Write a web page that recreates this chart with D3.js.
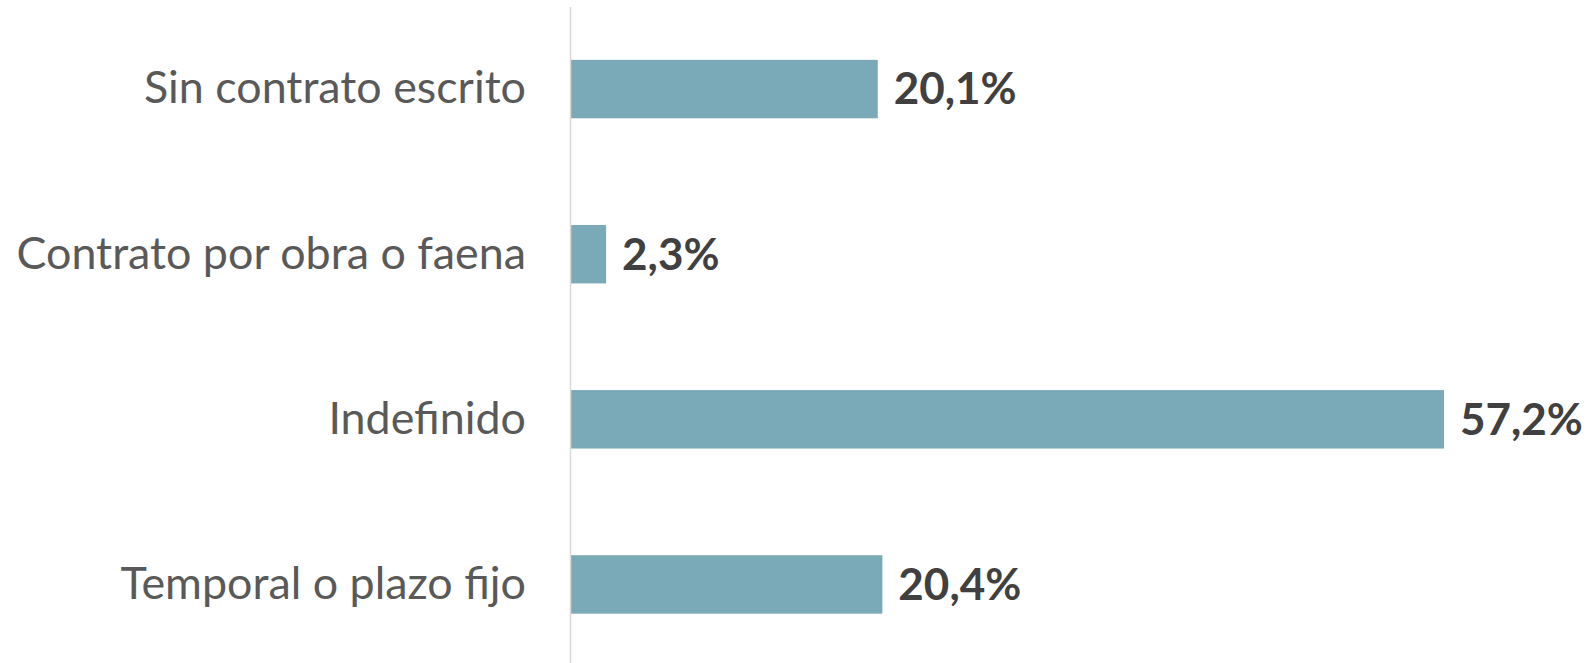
<!DOCTYPE html>
<html>
<head>
<meta charset="utf-8">
<script src="https://cdn.jsdelivr.net/npm/d3@7"></script>
<style>
html, body { margin: 0; padding: 0; background: #ffffff; }
svg { display: block; }
</style>
</head>
<body>
<svg id="chart" width="1588" height="663"></svg>
<script>
const categories = ["Sin contrato escrito", "Contrato por obra o faena", "Indefinido", "Temporal o plazo fijo"];
const values = [20.1, 2.3, 57.2, 20.4];
const valueLabels = ["20,1%", "2,3%", "57,2%", "20,4%"];

const svg = d3.select("#chart");
const axisX = 571;

const x = d3.scaleLinear().domain([0, 57.2]).range([axisX, 1444]);
const y = d3.scaleBand().domain(categories).range([6.5, 667]).paddingInner(0.646).paddingOuter(0.323);

const data = categories.map((c, i) => ({ c, v: values[i], l: valueLabels[i] }));

svg.selectAll("rect.bar").data(data).enter().append("rect")
  .attr("class", "bar")
  .attr("x", x(0))
  .attr("y", d => y(d.c))
  .attr("width", d => x(d.v) - x(0))
  .attr("height", y.bandwidth())
  .attr("fill", "#7aa9b8");

const yAxis = d3.axisLeft(y).tickSize(0).tickPadding(45);
const g = svg.append("g").attr("transform", `translate(${axisX},0)`).call(yAxis);
g.select(".domain").remove();
g.selectAll("text")
  .attr("font-family", "Lato, 'Open Sans', sans-serif")
  .attr("font-size", 44.8)
  .attr("fill", "#595959");

svg.append("line")
  .attr("x1", axisX - 0.5).attr("x2", axisX - 0.5)
  .attr("y1", 7).attr("y2", 663)
  .attr("stroke", "#d9d9d9").attr("stroke-width", 1.5);

svg.selectAll("text.val").data(data).enter().append("text")
  .attr("class", "val")
  .attr("x", d => x(d.v) + 16)
  .attr("y", d => y(d.c) + y.bandwidth() / 2)
  .attr("dy", "0.35em")
  .attr("font-family", "Lato, 'Open Sans', sans-serif")
  .attr("font-weight", "bold")
  .attr("font-size", 44)
  .attr("fill", "#404040")
  .text(d => d.l);
</script>
</body>
</html>
